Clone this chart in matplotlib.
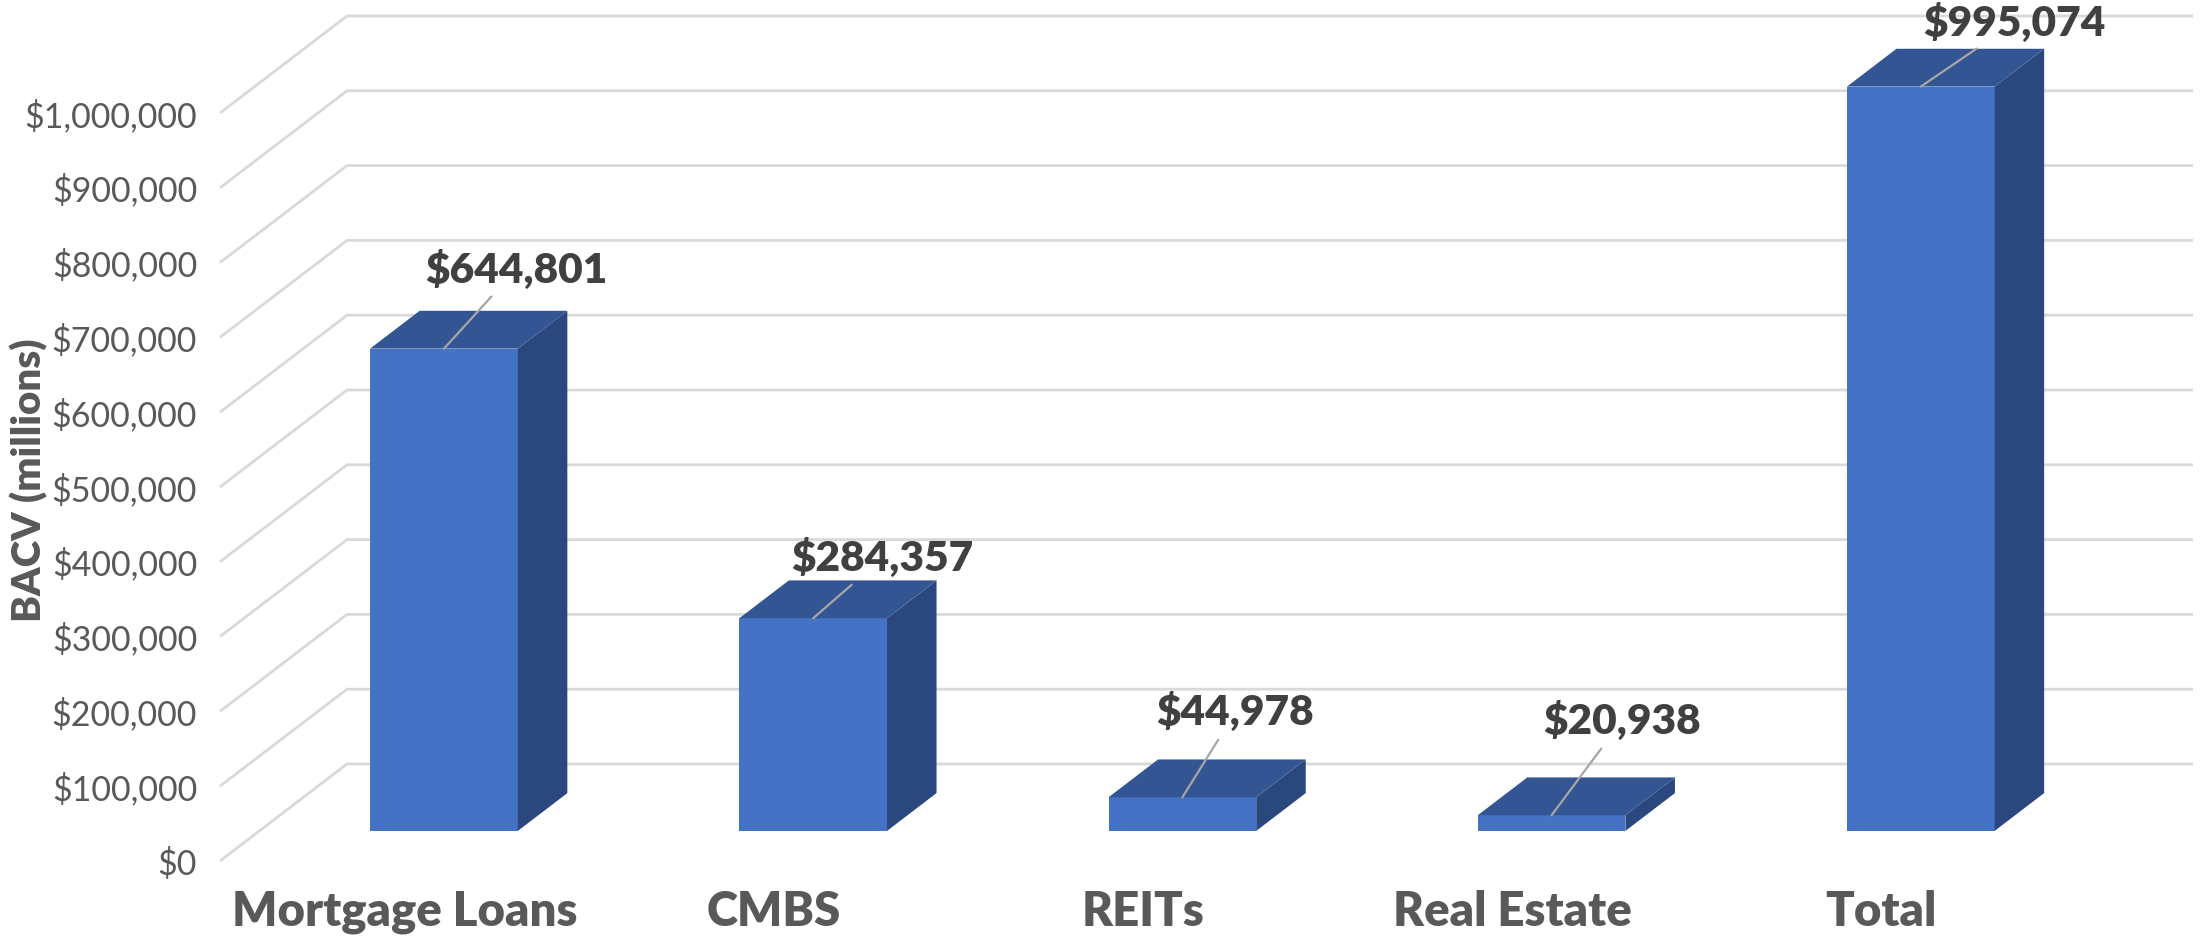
import matplotlib

matplotlib.use("Agg")
import matplotlib.pyplot as plt
from matplotlib.ticker import FuncFormatter

CATEGORIES = ["Mortgage Loans", "CMBS", "REITs", "Real Estate", "Total"]
BACV = [644801, 284357, 44978, 20938, 995074]
Y_TICKS = list(range(0, 1000001, 100000))

# label offsets (pixels) from the front-top centre of each bar
LABEL_DX = [72, 69, 53, 70, 94]
LABEL_DY = [79, 60, 85, 94, 64]

FRONT, TOP, SIDE = "#4472c4", "#345593", "#2a487e"
GRID, TEXT, LABEL, LEADER = "#d9d9d9", "#595959", "#404040", "#a6a6a6"

W, H = 2203, 938
# oblique depth of the floor, in data units (x: categories, y: value)
DX, DY = 0.344, 129700
D0, D1 = 0.31, 0.70     # bar depth range (fraction of floor depth)
BW = 0.40               # bar width (fraction of category)

fig = plt.figure(figsize=(W / 100, H / 100), dpi=100)
ax = fig.add_axes([220 / W, (H - 861) / H, 1846 / W, 748 / H])
ax.set_xlim(0, 5)
ax.set_ylim(0, 1000000)
for s in ax.spines.values():
    s.set_visible(False)

# gridlines: floor diagonal + back wall horizontal
for v in Y_TICKS:
    ax.plot([0, DX, 5 + DX], [v, v + DY, v + DY], color=GRID, lw=2.0,
            clip_on=False, zorder=1, solid_capstyle="butt")

ax.set_yticks(Y_TICKS)
ax.yaxis.set_major_formatter(FuncFormatter(lambda v, _: f"${v:,.0f}"))
ax.set_xticks([i + 0.5 for i in range(len(CATEGORIES))])
ax.set_xticklabels(CATEGORIES)
ax.tick_params(axis="y", length=0, pad=16.5, labelsize=24.5, labelcolor=TEXT)
ax.tick_params(axis="x", length=0, pad=21, labelsize=34, labelcolor=TEXT)
for t in ax.get_yticklabels():
    t.set_fontfamily("Lato")
    t.set_fontweight("normal")
for t in ax.get_xticklabels():
    t.set_fontfamily("Lato")
    t.set_fontweight("heavy")

ax.set_ylabel("BACV (millions)", fontsize=29, fontweight="heavy", color=TEXT,
              fontfamily="Lato", labelpad=0)
ax.yaxis.set_label_coords(-172 / 1846, (861 - 480) / 748)

for i, v in enumerate(BACV):
    c = i + 0.5
    xl, xr = c - BW / 2, c + BW / 2
    z0, z1 = D0 * DY, D1 * DY
    # front face
    ax.fill([xl + D0 * DX, xr + D0 * DX, xr + D0 * DX, xl + D0 * DX],
            [z0, z0, z0 + v, z0 + v], color=FRONT, lw=0, clip_on=False, zorder=3)
    # side face
    ax.fill([xr + D0 * DX, xr + D1 * DX, xr + D1 * DX, xr + D0 * DX],
            [z0, z1, z1 + v, z0 + v], color=SIDE, lw=0, clip_on=False, zorder=3)
    # top face
    ax.fill([xl + D0 * DX, xr + D0 * DX, xr + D1 * DX, xl + D1 * DX],
            [z0 + v, z0 + v, z1 + v, z1 + v], color=TOP, lw=0, clip_on=False, zorder=3)
    ax.annotate(f"${v:,.0f}", xy=(c + D0 * DX, z0 + v),
                xytext=(LABEL_DX[i], LABEL_DY[i]), textcoords="offset pixels",
                ha="center", va="center", fontsize=30.5, fontweight="heavy",
                color=LABEL, fontfamily="Lato", zorder=5, annotation_clip=False,
                arrowprops=dict(arrowstyle="-", color=LEADER, lw=1.6,
                                shrinkA=4, shrinkB=0))

fig.savefig("out.png", dpi=100)
